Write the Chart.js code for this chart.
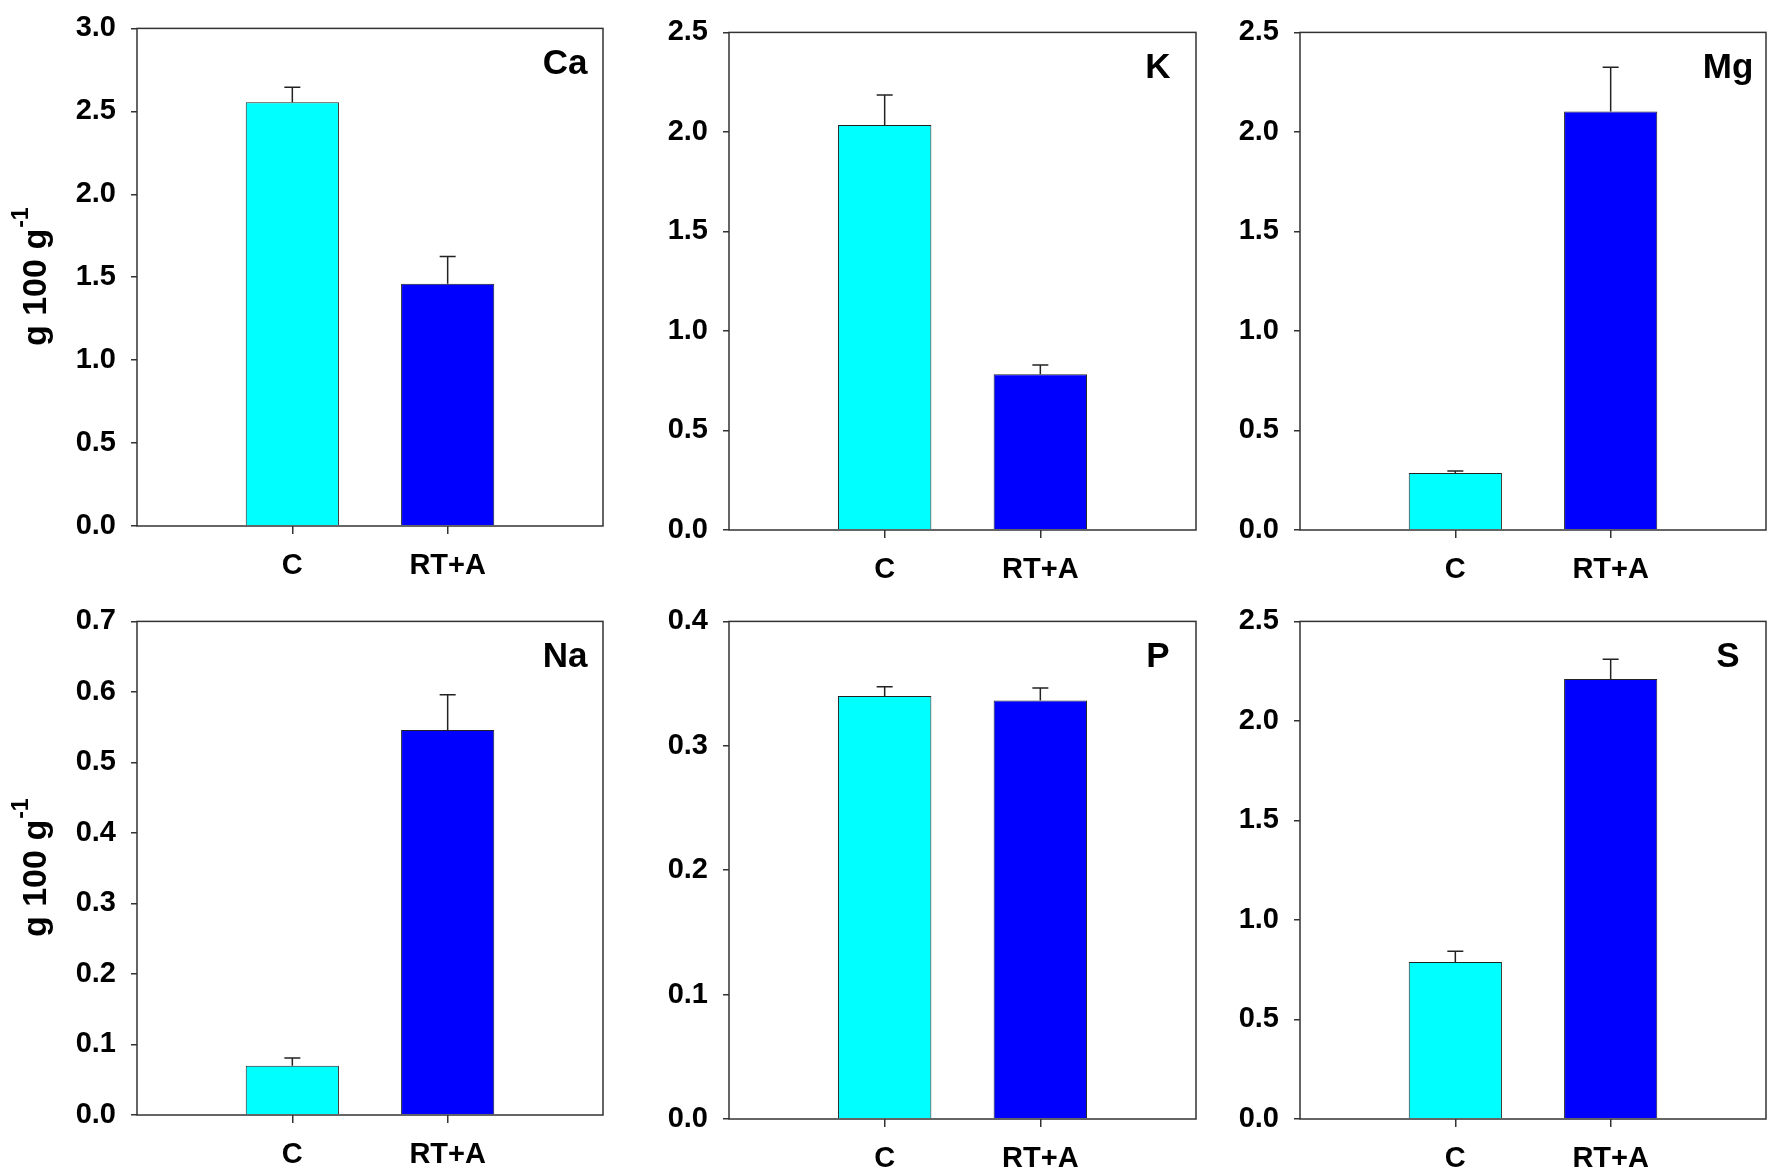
<!DOCTYPE html>
<html>
<head>
<meta charset="utf-8">
<script src="https://cdn.jsdelivr.net/npm/chart.js@4"></script>
<style>
  body { margin: 0; background: #fff; width: 1772px; height: 1173px; position: relative; overflow: hidden; }
  canvas { position: absolute; }
</style>
</head>
<body>
<script>
// data
const categories = ['C', 'RT+A'];
const elements = ['Ca', 'K', 'Mg', 'Na', 'P', 'S'];

const caMean = [2.555, 1.46];
const caErr = [0.09, 0.165];
const kMean = [2.035, 0.783];
const kErr = [0.15, 0.046];
const mgMean = [0.287, 2.103];
const mgErr = [0.010, 0.222];
const naMean = [0.070, 0.546];
const naErr = [0.011, 0.050];
const pMean = [0.340, 0.3365];
const pErr = [0.0075, 0.010];
const sMean = [0.789, 2.211];
const sErr = [0.054, 0.099];

const yMax = [3.0, 2.5, 2.5, 0.7, 0.4, 2.5];
const yStep = [0.5, 0.5, 0.5, 0.1, 0.1, 0.5];

const means = [caMean, kMean, mgMean, naMean, pMean, sMean];
const errs = [caErr, kErr, mgErr, naErr, pErr, sErr];

// plot areas [left, top, right, bottom]
const boxes = [
  [137, 16, 603, 526], [729, 20, 1196, 530], [1300, 20, 1766, 530],
  [137, 609, 603, 1115], [729, 609, 1196, 1119], [1300, 609, 1766, 1119]
];

const FONT = "'Liberation Sans', Arial, sans-serif";
const AXIS_W = 130, PAD_T = 20, X_H = 62, PAD_R = 4;

const errorBars = {
  id: 'errorBars',
  afterDatasetsDraw(chart) {
    const ctx = chart.ctx;
    const ys = chart.scales.y;
    const ds = chart.data.datasets[0];
    const meta = chart.getDatasetMeta(0);
    ctx.save();
    ctx.strokeStyle = '#222';
    ctx.lineWidth = 1.5;
    meta.data.forEach((bar, i) => {
      const top = ys.getPixelForValue(ds.data[i].y + ds.errors[i]);
      ctx.beginPath();
      ctx.moveTo(bar.x, bar.y);
      ctx.lineTo(bar.x, top);
      ctx.moveTo(bar.x - 8, top);
      ctx.lineTo(bar.x + 8, top);
      ctx.stroke();
    });
    ctx.restore();
  }
};

const frame = {
  id: 'frame',
  afterDraw(chart, args, opts) {
    const { ctx, chartArea: a } = chart;
    ctx.save();
    ctx.strokeStyle = '#333';
    ctx.lineWidth = 1.5;
    ctx.strokeRect(a.left, a.top, a.right - a.left, a.bottom - a.top);
    ctx.fillStyle = '#000';
    ctx.font = 'bold 35px ' + FONT;
    ctx.textAlign = 'center';
    ctx.textBaseline = 'middle';
    ctx.fillText(opts.label, a.right - 38, a.top + 36);
    if (opts.yTitle) {
      ctx.translate(opts.titleX, (a.top + a.bottom) / 2);
      ctx.rotate(-Math.PI / 2);
      ctx.font = 'bold 34px ' + FONT;
      const main = 'g 100 g';
      const wMain = ctx.measureText(main).width;
      ctx.font = 'bold 23px ' + FONT;
      const wSup = ctx.measureText('-1').width;
      const x0 = -(wMain + wSup) / 2;
      ctx.textAlign = 'left';
      ctx.textBaseline = 'alphabetic';
      ctx.font = 'bold 34px ' + FONT;
      ctx.fillText(main, x0, 12);
      ctx.font = 'bold 23px ' + FONT;
      ctx.fillText('-1', x0 + wMain + 1, -6);
    }
    ctx.restore();
  }
};

elements.forEach((el, p) => {
  const [l, t, r, b] = boxes[p];
  const cv = document.createElement('canvas');
  const w = AXIS_W + (r - l) + PAD_R;
  const h = PAD_T + (b - t) + X_H;
  cv.width = w; cv.height = h;
  cv.style.left = (l - AXIS_W) + 'px';
  cv.style.top = (t - PAD_T) + 'px';
  cv.style.width = w + 'px';
  cv.style.height = h + 'px';
  document.body.appendChild(cv);

  new Chart(cv.getContext('2d'), {
    type: 'bar',
    data: {
      datasets: [{
        data: means[p].map((v, i) => ({ x: i + 1, y: v })),
        errors: errs[p],
        backgroundColor: ['#00FFFF', '#0000FF'],
        borderColor: '#222',
        borderWidth: 1,
        barPercentage: 0.6,
        categoryPercentage: 1
      }]
    },
    options: {
      responsive: false,
      devicePixelRatio: 1,
      animation: false,
      layout: { padding: { top: PAD_T, right: PAD_R, left: 0, bottom: 0 } },
      plugins: {
        legend: { display: false },
        tooltip: { enabled: false },
        frame: { label: el, yTitle: p % 3 === 0, titleX: 34 - (l - AXIS_W) }
      },
      scales: {
        x: {
          type: 'linear',
          min: 0,
          max: 3,
          offset: false,
          afterBuildTicks: s => { s.ticks = [{ value: 1 }, { value: 2 }]; },
          afterFit: s => { s.height = X_H; },
          border: { display: false },
          grid: { offset: false, drawOnChartArea: false, drawTicks: true, tickLength: 8, color: '#333', lineWidth: 1.5 },
          ticks: {
            autoSkip: false,
            maxRotation: 0,
            padding: 15,
            color: '#000',
            font: { family: FONT, size: 29, weight: 'bold' },
            callback: v => categories[v - 1]
          }
        },
        y: {
          min: 0,
          max: yMax[p],
          afterFit: s => { s.width = AXIS_W; },
          border: { display: false },
          grid: { drawOnChartArea: false, drawTicks: true, tickLength: 6, color: '#333', lineWidth: 1.5 },
          ticks: {
            stepSize: yStep[p],
            padding: 15,
            color: '#000',
            font: { family: FONT, size: 29, weight: 'bold' },
            callback: v => v.toFixed(1)
          }
        }
      }
    },
    plugins: [errorBars, frame]
  });
});
</script>
</body>
</html>
